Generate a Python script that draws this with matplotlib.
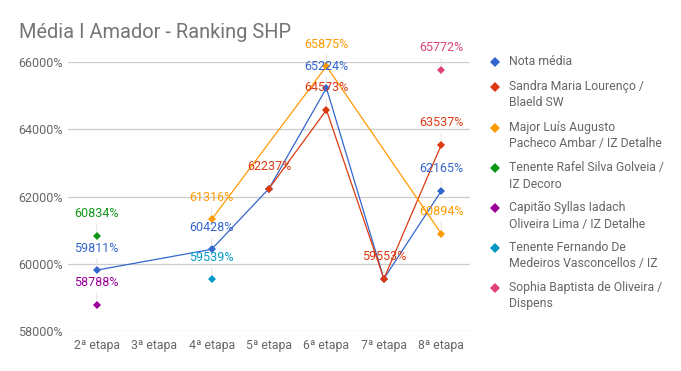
import numpy as np
import matplotlib
matplotlib.use("Agg")
import matplotlib.pyplot as plt
from matplotlib.lines import Line2D

plt.rcParams['font.family'] = ['Roboto', 'DejaVu Sans']

categories = ["2ª etapa", "3ª etapa", "4ª etapa", "5ª etapa", "6ª etapa", "7ª etapa", "8ª etapa"]
nan = np.nan
series_names = [
    "Nota média",
    "Sandra Maria Lourenço /\nBlaeld SW",
    "Major Luís Augusto\nPacheco Ambar / IZ Detalhe",
    "Tenente Rafel Silva Golveia /\nIZ Decoro",
    "Capitão Syllas Iadach\nOliveira Lima / IZ Detalhe",
    "Tenente Fernando De\nMedeiros Vasconcellos / IZ",
    "Sophia Baptista de Oliveira /\nDispens",
]
nota_media = [59811, nan, 60428, 62237, 65224, 59553, 62165]
sandra = [nan, nan, nan, 62237, 64573, 59553, 63537]
major = [nan, nan, 61316, nan, 65875, nan, 60894]
rafel = [60834, nan, nan, nan, nan, nan, nan]
syllas = [58788, nan, nan, nan, nan, nan, nan]
fernando = [nan, nan, 59539, nan, nan, nan, nan]
sophia = [nan, nan, nan, nan, nan, nan, 65772]
all_series = [nota_media, sandra, major, rafel, syllas, fernando, sophia]
colors = ["#3366cc", "#dc3912", "#ff9900", "#109618", "#990099", "#0099c6", "#dd4477"]

yticks = [58000, 60000, 62000, 64000, 66000]

fig = plt.figure(figsize=(6.81, 3.71), dpi=100)
ax = fig.add_axes([68/681, 1-331/371, (470-68)/681, (331-62)/371])
ax.set_xlim(-0.5, len(categories)-0.5)
ax.set_ylim(58000, 66000)
for s in ax.spines.values():
    s.set_visible(False)
ax.set_yticks(yticks)
ax.set_yticklabels([f"{v}%" for v in yticks])
ax.yaxis.grid(True, color="#cccccc", linewidth=0.9)
ax.set_axisbelow(True)
ax.set_xticks(range(len(categories)))
ax.set_xticklabels(categories)
ax.tick_params(axis='both', length=0, labelcolor="#666666")
ax.tick_params(axis='y', pad=4, labelsize=9.0)
ax.tick_params(axis='x', pad=6, labelsize=8.8)

x = np.arange(len(categories))
labeled = set()
for i, (vals, c) in enumerate(zip(all_series, colors)):
    v = np.array(vals, dtype=float)
    m = ~np.isnan(v)
    ax.plot(x[m], v[m], color=c, linewidth=0.9, marker='D', markersize=4.0,
            markeredgewidth=0, zorder=3+i)
# labels drawn after, later series take precedence at identical positions
for i in range(len(all_series)-1, -1, -1):
    vals, c = all_series[i], colors[i]
    for xi, val in zip(x, vals):
        if np.isnan(val):
            continue
        key = (xi, round(val))
        if key in labeled:
            continue
        labeled.add(key)
        ax.annotate(f"{int(val)}%", xy=(xi, val), xytext=(0, 22),
                    textcoords='offset pixels', ha='center', va='center',
                    fontsize=9.0, color=c, zorder=20,
                    arrowprops=dict(arrowstyle='-', color='#e6e6e6', lw=0.8,
                                    shrinkA=1, shrinkB=3))

fig.text(19/681, 1-32/371, "Média I Amador - Ranking SHP", fontsize=14.4,
         color="#757575", ha='left', va='center')

legend_y = [62, 87, 128, 168, 208, 248, 288]
for name, c, ly in zip(series_names, colors, legend_y):
    fig.add_artist(Line2D([495/681], [1-ly/371], marker='D', markersize=5.6,
                          color=c, markeredgewidth=0, transform=fig.transFigure))
    fig.text(509/681, 1-(ly-7)/371, name, fontsize=8.8, color="#666666",
             ha='left', va='top', linespacing=1.35)

fig.savefig("out.png", dpi=100, facecolor="white")
